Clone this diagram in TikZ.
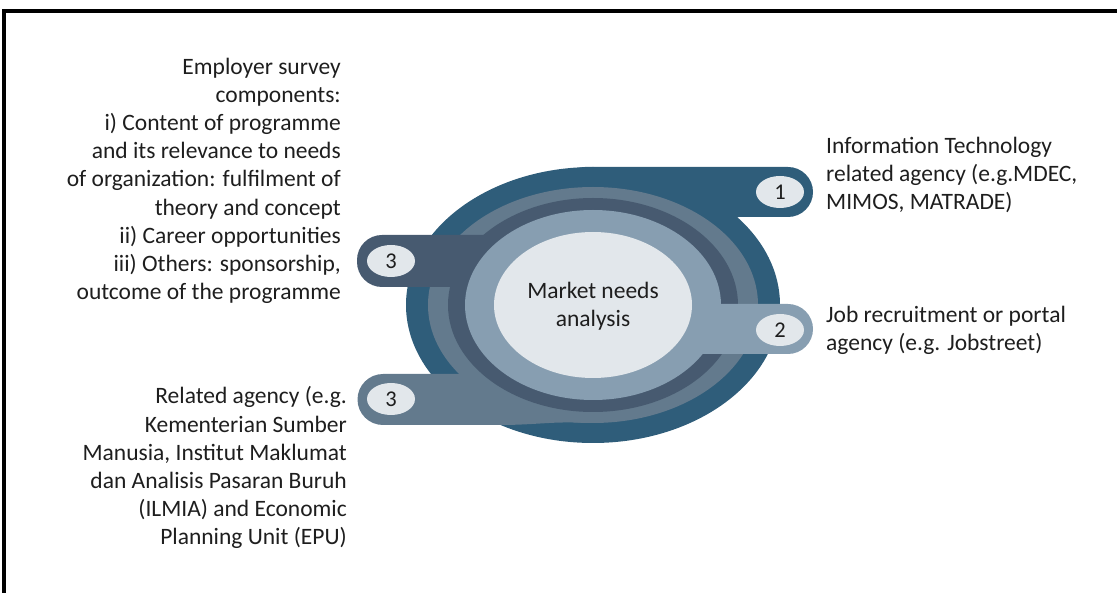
\documentclass[tikz,border=0pt]{standalone}
\usepackage{fontspec}
\setmainfont{Carlito}
\usetikzlibrary{positioning,shapes.geometric}
\definecolor{ringout}{HTML}{2F5D7A}
\definecolor{ringtwo}{HTML}{637A8D}
\definecolor{ringthree}{HTML}{475A70}
\definecolor{ringfour}{HTML}{879EB1}
\definecolor{core}{HTML}{E2E7EB}
\definecolor{txt}{HTML}{1E1E1E}
\newcommand{\tabp}[5]{
	\fill[#1, rounded corners=25] (#2,#3) rectangle (#4,#5);
}

\begin{document}
\begin{tikzpicture}[x=1pt, y=-1pt,
	badge/.style={ellipse, fill=core, minimum width=48, minimum height=32, inner sep=0, text=txt, font=\fontsize{22.5}{26}\selectfont},
	txtbox/.style={text=txt, inner sep=0, font=\fontsize{23.5}{28.2}\selectfont}]
		\useasboundingbox (0,0) rectangle (1117,593);
		\draw[line width=3.5] (4,593) -- (4,11) -- (1117,11);

		\fill[ringout] (593,305) ellipse (187 and 138);
		\tabp{ringout}{560}{167}{813}{217}
		\fill[ringout] (730,216) -- (745,216) to[out=180,in=60] (725,230) -- cycle;
		\fill[ringtwo] (593,305) ellipse (165 and 118);
		\fill[ringtwo] (560,374) -- (383,374) arc (270:90:25.5) -- (500,425) .. controls (535,425) and (555,421) .. (585,423) -- (585,374) -- cycle;
		\fill[ringthree] (593,305) ellipse (145 and 107);
		\tabp{ringthree}{357}{235}{593}{287}
		\fill[ringfour] (593,305) ellipse (128 and 95);
		\tabp{ringfour}{593}{304}{813}{354}
		\fill[core] (593,305) ellipse (99 and 73);

		\node[badge] (one) at (780,192) {1};
		\node[badge] (two) at (780,330) {2};
		\node[badge] (threeup) at (391,261) {3};
		\node[badge] (threelow) at (391,399) {3};

		\node[txtbox, align=center] (mna) at (593,306) {Market needs\\analysis};

		\node[txtbox, align=left, anchor=north west] (itag) at (826,136.5) {Information Technology\\related agency (e.g.MDEC,\\MIMOS, MATRADE)};
		\node[txtbox, align=left, anchor=north west] (jobag) at (826,305.5) {Job recruitment or portal\\agency (e.g. Jobstreet)};
		\node[txtbox, align=right, anchor=north east] (emps) at (341,57.5) {Employer survey\\components:\\i) Content of programme\\and its relevance to needs\\of organization: fulfilment of\\theory and concept\\ii) Career opportunities\\iii) Others: sponsorship,\\outcome of the programme};
		\node[txtbox, align=right, anchor=north east] (relag) at (347,386.5) {Related agency (e.g.\\Kementerian Sumber\\Manusia, Institut Maklumat\\dan Analisis Pasaran Buruh\\(ILMIA) and Economic\\Planning Unit (EPU)};
\end{tikzpicture}
\end{document}
